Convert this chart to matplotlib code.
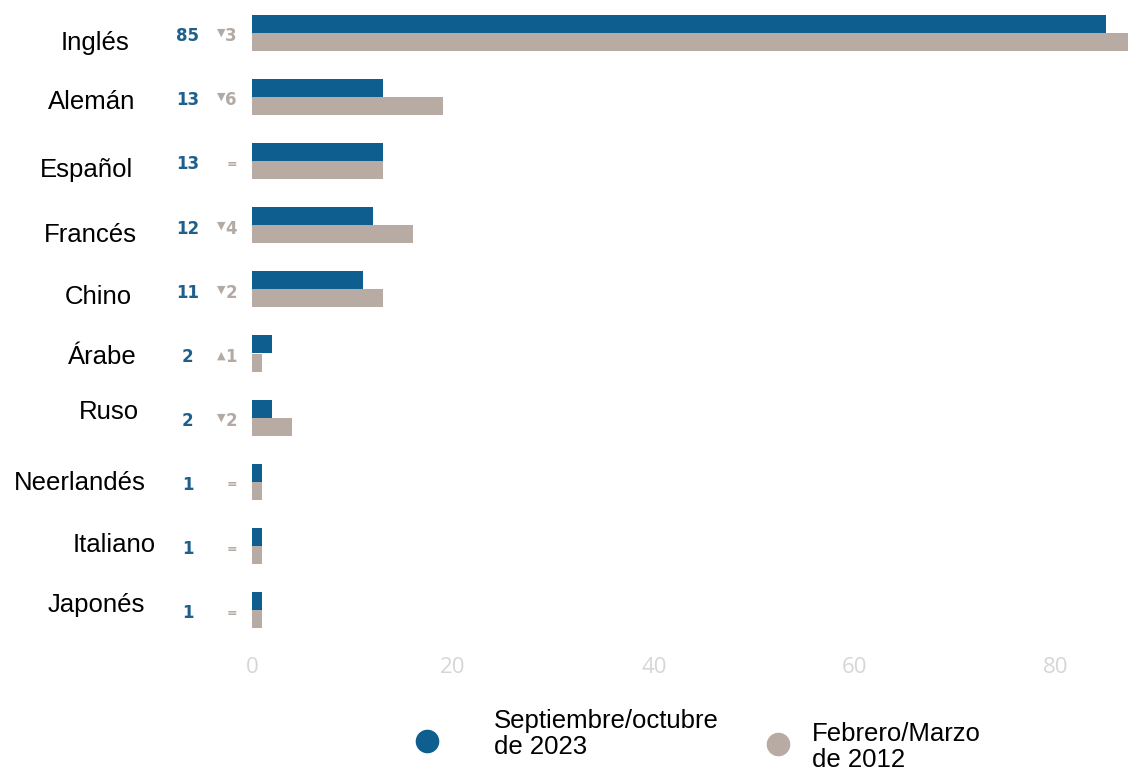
import matplotlib
matplotlib.use("Agg")
import matplotlib.pyplot as plt
from matplotlib.lines import Line2D
import numpy as np

# ---- data ----
categories = ["Inglés", "Alemán", "Español", "Francés", "Chino", "Árabe",
              "Ruso", "Neerlandés", "Italiano", "Japonés"]
values_2023 = [85, 13, 13, 12, 11, 2, 2, 1, 1, 1]
values_2012 = [88, 19, 13, 16, 13, 1, 4, 1, 1, 1]
change_labels = ["▼3", "▼6", "=", "▼4", "▼2", "▲1", "▼2", "=", "=", "="]
series_names = ["Septiembre/octubre\nde 2023", "Febrero/Marzo\nde 2012"]
xticks = [0, 20, 40, 60, 80]

# ---- layout / style ----
W, H = 1128, 771
BLUE = "#0e5f8f"
GRAY = "#b8aba3"
VAL_BLUE = "#1f5f8b"
CHG_GRAY = "#b3aaa4"
X0_PX, PX_PER_UNIT = 252, 10.05
ROW0_PX, ROW_STEP = 33, 64.1
# label placement (right edge px, centre px) of category names
label_right_px = [129, 135, 133, 137, 132, 137, 139, 146, 156, 145]
label_y_px = [43, 102, 170, 235, 297, 357, 412, 483, 545, 605]

fig = plt.figure(figsize=(W / 100, H / 100), dpi=100)
ax_bottom_px = 650
ax = fig.add_axes([X0_PX / W, 1 - ax_bottom_px / H, 1 - X0_PX / W, ax_bottom_px / H])

n = len(categories)
y = np.arange(n)
bh = 18 / ROW_STEP
ax.barh(y - bh / 2, values_2023, height=bh, color=BLUE, linewidth=0)
ax.barh(y + bh / 2, values_2012, height=bh, color=GRAY, linewidth=0)

xmax = (W - X0_PX) / PX_PER_UNIT
ax.set_xlim(0, xmax)
ax.set_ylim((ax_bottom_px - ROW0_PX) / ROW_STEP, -ROW0_PX / ROW_STEP)

for s in ax.spines.values():
    s.set_visible(False)
ax.set_yticks([])
ax.set_xticks(xticks)
ax.set_xticklabels([str(t) for t in xticks], color="#d6d6d6", fontsize=16,
                   family="Open Sans")
ax.tick_params(axis="x", length=0, pad=5)


def px_to_data_x(px):
    return (px - X0_PX) / PX_PER_UNIT


def px_to_data_y(py):
    return (py - ROW0_PX) / ROW_STEP


for i, cat in enumerate(categories):
    ax.text(px_to_data_x(label_right_px[i]), px_to_data_y(label_y_px[i]), cat,
            ha="right", va="center", fontsize=18.5, family="Liberation Sans",
            color="black", clip_on=False)
    ax.text(px_to_data_x(187.5), i + 0.05, str(values_2023[i]), ha="center",
            va="center", fontsize=12, fontweight="bold", color=VAL_BLUE,
            family="DejaVu Sans", clip_on=False)
    chg = change_labels[i]
    if chg == "=":
        ax.text(px_to_data_x(237), i + 0.05, "=", ha="right", va="center",
                fontsize=9, fontweight="bold", color=CHG_GRAY,
                family="DejaVu Sans", clip_on=False)
    else:
        ax.text(px_to_data_x(237), i + 0.05, chg[1:], ha="right", va="center",
                fontsize=12, fontweight="bold", color=CHG_GRAY,
                family="DejaVu Sans", clip_on=False)
        ax.text(px_to_data_x(225), i + (0.0 if chg[0] == "▼" else 0.04), chg[0],
                ha="right", va="center", fontsize=8, color=CHG_GRAY,
                family="DejaVu Sans", clip_on=False)

# ---- legend ----
def fx(px):
    return px / W


def fy(py):
    return 1 - py / H


fig.add_artist(Line2D([fx(427)], [fy(741)], marker="o", markersize=17,
                      color=BLUE, markeredgewidth=0, transform=fig.transFigure))
fig.add_artist(Line2D([fx(778)], [fy(744)], marker="o", markersize=17,
                      color=GRAY, markeredgewidth=0, transform=fig.transFigure))
fig.text(fx(494), fy(734), series_names[0], ha="left", va="center",
         fontsize=18.5, family="Liberation Sans", linespacing=1.1)
fig.text(fx(812), fy(747), series_names[1], ha="left", va="center",
         fontsize=18.5, family="Liberation Sans", linespacing=1.1)

fig.savefig("out.png", dpi=100)
